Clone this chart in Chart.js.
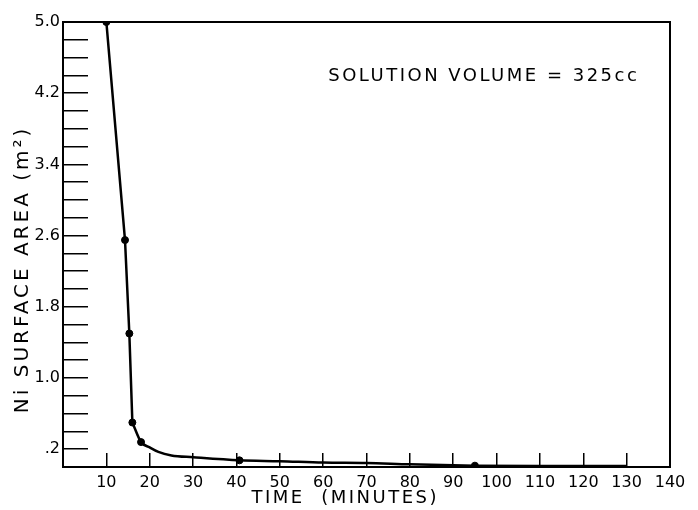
<!DOCTYPE html>
<html lang="en">
<head>
    <meta charset="UTF-8">
    <title>Ni Surface Area vs Time</title>
    <style>
        body {
            margin: 0;
            padding: 0;
            background-color: #fff;
        }
        #chart {
            display: block;
        }
    </style>
</head>
<body>
    <canvas id="chart" width="698" height="510"></canvas>

    <script src="https://cdn.jsdelivr.net/npm/chart.js"></script>
    <script>
        // steep, nearly straight part of the curve (minutes, m^2)
        const steepTime = [10, 14.3, 15.3, 16];
        const steepArea = [5.0, 2.55, 1.5, 0.5];

        // flat tail of the curve
        const tailTime = [16, 18, 20, 22, 25, 30, 40.7, 50, 60, 70, 80, 95, 110, 130];
        const tailArea = [0.5, 0.28, 0.22, 0.17, 0.13, 0.11, 0.075, 0.065, 0.05, 0.045, 0.03, 0.015, 0.01, 0.01];

        // measured points (dots)
        const pointTime = [10, 14.3, 15.3, 16, 18, 40.7, 95];
        const pointArea = [5.0, 2.55, 1.5, 0.5, 0.28, 0.075, 0.015];

        // labelled y ticks (the rest are unlabelled minor marks)
        const yTickLabels = ['.2', '1.0', '1.8', '2.6', '3.4', '4.2', '5.0'];
        const noteText = 'SOLUTION VOLUME = 325cc';
        const xTitle = 'TIME  (MINUTES)';
        const yTitle = 'Ni SURFACE AREA (m²)';

        const font = { family: 'DejaVu Sans', size: 16 };

        // frame around the plot, the note and the spaced-out axis titles
        const framePlugin = {
            id: 'frame',
            afterDraw(chart) {
                const { ctx, chartArea } = chart;
                const w = chartArea.right - chartArea.left;
                const h = chartArea.bottom - chartArea.top;
                ctx.save();
                ctx.strokeStyle = '#000';
                ctx.lineWidth = 2;
                ctx.strokeRect(chartArea.left, chartArea.top, w, h);

                ctx.fillStyle = '#000';
                ctx.textBaseline = 'middle';
                ctx.font = '18px "DejaVu Sans"';
                ctx.letterSpacing = '2.5px';
                ctx.textAlign = 'left';
                ctx.fillText(noteText, chartArea.left + w * 0.437, chartArea.top + h * 0.121);

                ctx.textAlign = 'center';
                ctx.fillText(xTitle, chartArea.left + w * 0.465, chartArea.bottom + 31);

                ctx.font = '20px "DejaVu Sans"';
                ctx.letterSpacing = '3px';
                ctx.translate(23, chartArea.top + h * 0.556);
                ctx.rotate(-Math.PI / 2);
                ctx.fillText(yTitle, 0, 0);
                ctx.restore();
            }
        };

        const lineStyle = {
            showLine: true,
            borderColor: '#000',
            borderWidth: 2.5,
            pointRadius: 0
        };

        const data = {
            datasets: [{
                label: 'steep',
                data: steepTime.map((t, i) => ({ x: t, y: steepArea[i] })),
                ...lineStyle,
                tension: 0
            }, {
                label: 'tail',
                data: tailTime.map((t, i) => ({ x: t, y: tailArea[i] })),
                ...lineStyle,
                cubicInterpolationMode: 'monotone'
            }, {
                label: 'points',
                data: pointTime.map((t, i) => ({ x: t, y: pointArea[i] })),
                showLine: false,
                pointRadius: 3.5,
                pointBackgroundColor: '#000',
                pointBorderColor: '#000'
            }]
        };

        new Chart(document.getElementById('chart'), {
            type: 'scatter',
            data: data,
            options: {
                responsive: false,
                animation: false,
                layout: { padding: { top: 22, right: 28, left: 0, bottom: 0 } },
                plugins: {
                    legend: { display: false },
                    tooltip: { enabled: false }
                },
                scales: {
                    x: {
                        type: 'linear',
                        min: 0,
                        max: 140,
                        afterFit(scale) {
                            scale.height = 43;
                            scale.paddingLeft = 0;
                            scale.paddingRight = 0;
                        },
                        border: { display: true, color: '#000', width: 2 },
                        grid: {
                            drawOnChartArea: false,
                            drawTicks: true,
                            tickLength: -14,
                            color: '#000',
                            lineWidth: 1.5
                        },
                        ticks: {
                            stepSize: 10,
                            padding: 20,
                            color: '#000',
                            font: font,
                            maxRotation: 0,
                            autoSkip: false,
                            callback: v => (v === 0 ? '' : String(v))
                        }
                    },
                    y: {
                        min: 0,
                        max: 5.0,
                        afterFit(scale) {
                            scale.width = 63;
                            scale.paddingTop = 0;
                            scale.paddingBottom = 0;
                        },
                        border: { display: true, color: '#000', width: 2 },
                        grid: {
                            drawOnChartArea: false,
                            drawTicks: true,
                            tickLength: -25,
                            color: '#000',
                            lineWidth: 1.5
                        },
                        ticks: {
                            stepSize: 0.2,
                            padding: 28,
                            color: '#000',
                            font: font,
                            autoSkip: false,
                            callback: v => {
                                const k = Math.round(v * 10);
                                if (k < 2 || (k - 2) % 8 !== 0) return '';
                                return yTickLabels[(k - 2) / 8];
                            }
                        }
                    }
                }
            },
            plugins: [framePlugin]
        });
    </script>
</body>
</html>
